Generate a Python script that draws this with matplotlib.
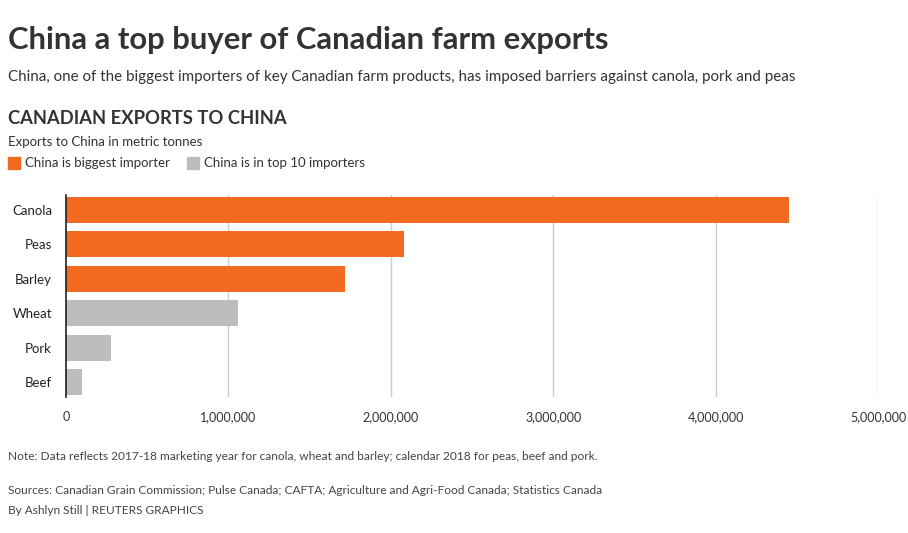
import matplotlib
matplotlib.use("Agg")
import matplotlib.pyplot as plt
from matplotlib.patches import Rectangle

categories = ["Canola", "Peas", "Barley", "Wheat", "Pork", "Beef"]
values = [4450000, 2080000, 1720000, 1060000, 277000, 99000]
biggest = [True, True, True, False, False, False]
ticks = [0, 1000000, 2000000, 3000000, 4000000, 5000000]
tick_labels = ["0", "1,000,000", "2,000,000", "3,000,000", "4,000,000", "5,000,000"]

ORANGE = "#f26b21"
GREY = "#bdbdbf"
FONT = "Lato"
W, H = 908, 533
fig = plt.figure(figsize=(W/100, H/100), dpi=100)
fig.patch.set_facecolor("white")

def fx(x): return x / W
def fy(y): return 1 - y / H

ax = fig.add_axes([fx(66), fy(397), fx(878-66), (397-195)/H])
ys = list(range(len(categories)))
colors = [ORANGE if b else GREY for b in biggest]
ax.barh(ys, values, height=0.76, color=colors, zorder=2)
ax.set_ylim(5.436, -0.436)
ax.set_xlim(0, 5000000)
ax.set_xticks(ticks)
ax.set_xticklabels(tick_labels, fontsize=9, family=FONT, color="#333333")
ax.set_yticks(ys)
ax.set_yticklabels(categories, fontsize=9.5, family=FONT, color="#222222")
ax.tick_params(length=0, pad=10)
ax.tick_params(axis="y", pad=10)
for t in ticks[1:]:
    ax.axvline(t, color="#cccccc", lw=1, zorder=1)
for s in ["top", "right", "bottom"]:
    ax.spines[s].set_visible(False)
ax.spines["left"].set_color("#222222")
ax.spines["left"].set_linewidth(1.2)

fig.text(fx(8), fy(40), "China a top buyer of Canadian farm exports", fontsize=22.3,
         weight="bold", family=FONT, color="#333333", va="center")
fig.text(fx(8), fy(77), "China, one of the biggest importers of key Canadian farm products, has imposed barriers against canola, pork and peas",
         fontsize=10.9, family=FONT, color="#333333", va="center")
fig.text(fx(8), fy(119), "CANADIAN EXPORTS TO CHINA", fontsize=13.2, weight="bold",
         family=FONT, color="#333333", va="center")
fig.text(fx(8), fy(142), "Exports to China in metric tonnes", fontsize=9.5, family=FONT,
         color="#333333", va="center")
fig.patches.append(Rectangle((fx(8), fy(169)), fx(12), 12/H, transform=fig.transFigure,
                             color=ORANGE, figure=fig))
fig.text(fx(25), fy(163), "China is biggest importer", fontsize=9.5, family=FONT,
         color="#333333", va="center")
fig.patches.append(Rectangle((fx(187), fy(169)), fx(12), 12/H, transform=fig.transFigure,
                             color=GREY, figure=fig))
fig.text(fx(204), fy(163), "China is in top 10 importers", fontsize=9.5, family=FONT,
         color="#333333", va="center")
fig.text(fx(8), fy(456), "Note: Data reflects 2017-18 marketing year for canola, wheat and barley; calendar 2018 for peas, beef and pork.",
         fontsize=8.6, family=FONT, color="#444444", va="center")
fig.text(fx(8), fy(491), "Sources: Canadian Grain Commission; Pulse Canada; CAFTA; Agriculture and Agri-Food Canada; Statistics Canada",
         fontsize=8.6, family=FONT, color="#444444", va="center")
fig.text(fx(8), fy(510), "By Ashlyn Still | REUTERS GRAPHICS", fontsize=8.6, family=FONT,
         color="#444444", va="center")

fig.savefig("out.png", dpi=100)
